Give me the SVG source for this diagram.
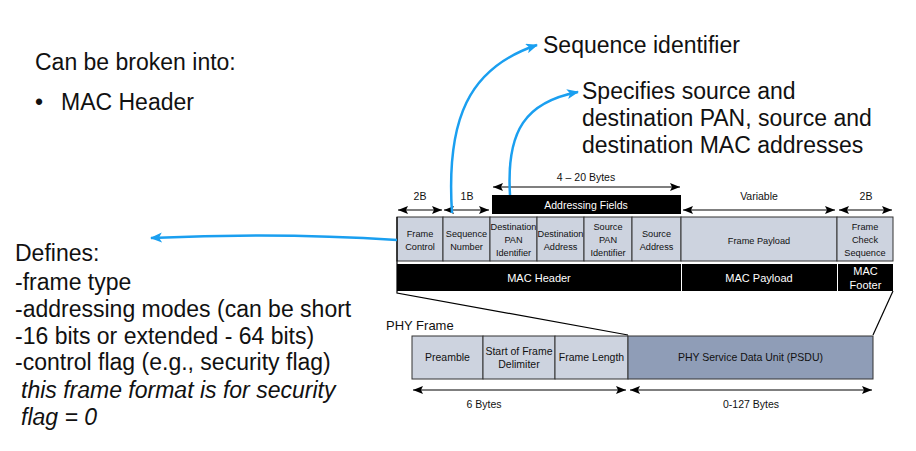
<svg xmlns="http://www.w3.org/2000/svg" width="916" height="451" viewBox="0 0 916 451">
<defs>
<marker id="ah" viewBox="0 0 10 8" refX="10" refY="4" markerWidth="10" markerHeight="8" markerUnits="userSpaceOnUse" orient="auto-start-reverse"><path d="M0,0 L10,4 L0,8 L2,4 Z" fill="#000"/></marker>
<marker id="bh" viewBox="0 0 12 10" refX="11" refY="5" markerWidth="12" markerHeight="10" markerUnits="userSpaceOnUse" orient="auto"><path d="M0,0 L12,5 L0,10 L3,5 Z" fill="#1a9ff0"/></marker>
</defs>
<style>
.big{font-family:"Liberation Sans",Arial,sans-serif;font-size:23px;fill:#111}
.it{font-style:italic}
.sm{font-family:"Liberation Sans",Arial,sans-serif;font-size:9.2px;fill:#111;text-anchor:middle}
.md{font-family:"Liberation Sans",Arial,sans-serif;font-size:10.5px;fill:#111;text-anchor:middle}
.wt{font-family:"Liberation Sans",Arial,sans-serif;font-size:11px;fill:#fff;text-anchor:middle}
.cell{fill:#cdd3df;stroke:#333;stroke-width:1}
.dark{fill:#8f9db7;stroke:#333;stroke-width:1}
.blk{fill:#000}
.dim{stroke:#000;stroke-width:1.2;fill:none;marker-start:url(#ah);marker-end:url(#ah)}
.blue{stroke:#1a9ff0;stroke-width:2.5;fill:none;marker-end:url(#bh)}
.ln{stroke:#000;stroke-width:1.2;fill:none}
</style>

<g id="intro">
<text class="big" x="35" y="70">Can be broken into:</text>
<text class="big" x="35" y="110">•</text>
<text class="big" x="61" y="110">MAC Header</text>
</g>

<g id="defines">
<text class="big" x="15" y="261">Defines:</text>
<text class="big" x="15" y="290">-frame type</text>
<text class="big" x="15" y="317">-addressing modes (can be short</text>
<text class="big" x="15" y="344">-16 bits or extended - 64 bits)</text>
<text class="big" x="15" y="370">-control flag (e.g., security flag)</text>
<text class="big it" x="21" y="398">this frame format is for security</text>
<text class="big it" x="21" y="425">flag = 0</text>
</g>

<g id="seq-label"><text class="big" x="543" y="53">Sequence identifier</text></g>
<g id="addr-label">
<text class="big" x="582" y="99">Specifies source and</text>
<text class="big" x="582" y="126">destination PAN, source and</text>
<text class="big" x="582" y="153">destination MAC addresses</text>
</g>

<g id="dims-top">
<text class="md" x="586" y="181">4 – 20 Bytes</text>
<path class="dim" d="M493,187 H680"/>
<text class="md" x="420" y="200">2B</text>
<path class="dim" d="M398,210 H442"/>
<text class="md" x="467" y="200">1B</text>
<path class="dim" d="M444,210 H489"/>
<text class="md" x="759" y="200">Variable</text>
<path class="dim" d="M683,210 H835"/>
<text class="md" x="866" y="200">2B</text>
<path class="dim" d="M839,210 H892"/>
</g>

<g id="addressing-fields">
<rect class="blk" x="492" y="195" width="189" height="19"/>
<text class="wt" x="586" y="208.5" style="font-size:10.5px">Addressing Fields</text>
</g>

<g id="frame-control"><rect class="cell" x="397" y="217" width="46" height="44"/><text class="sm" x="420" y="237">Frame</text><text class="sm" x="420" y="250">Control</text></g>
<g id="sequence-number"><rect class="cell" x="443" y="217" width="47" height="44"/><text class="sm" x="466.5" y="237">Sequence</text><text class="sm" x="466.5" y="250">Number</text></g>
<g id="dest-pan"><rect class="cell" x="490" y="217" width="47" height="44"/><text class="sm" x="513.5" y="230">Destination</text><text class="sm" x="513.5" y="243">PAN</text><text class="sm" x="513.5" y="256">Identifier</text></g>
<g id="dest-addr"><rect class="cell" x="537" y="217" width="47" height="44"/><text class="sm" x="560.5" y="237">Destination</text><text class="sm" x="560.5" y="250">Address</text></g>
<g id="src-pan"><rect class="cell" x="584" y="217" width="48" height="44"/><text class="sm" x="608" y="230">Source</text><text class="sm" x="608" y="243">PAN</text><text class="sm" x="608" y="256">Identifier</text></g>
<g id="src-addr"><rect class="cell" x="632" y="217" width="49" height="44"/><text class="sm" x="656.5" y="237">Source</text><text class="sm" x="656.5" y="250">Address</text></g>
<g id="frame-payload"><rect class="cell" x="681" y="217" width="156" height="44"/><text class="sm" x="759" y="244">Frame Payload</text></g>
<g id="fcs"><rect class="cell" x="837" y="217" width="56" height="44"/><text class="sm" x="865" y="230">Frame</text><text class="sm" x="865" y="243">Check</text><text class="sm" x="865" y="256">Sequence</text></g>

<g id="mac-header"><rect class="blk" x="397" y="264" width="284" height="27"/><text class="wt" x="539" y="282">MAC Header</text></g>
<g id="mac-payload"><rect class="blk" x="682" y="264" width="155" height="27"/><text class="wt" x="759" y="282">MAC Payload</text></g>
<g id="mac-footer"><rect class="blk" x="838" y="264" width="55" height="27"/><text class="wt" x="865.5" y="275">MAC</text><text class="wt" x="865.5" y="289">Footer</text></g>

<g id="phy-label"><text x="386" y="330" style="font-family:'Liberation Sans',Arial,sans-serif;font-size:13px;fill:#111">PHY Frame</text></g>
<g id="preamble"><rect class="cell" x="412" y="336" width="71" height="43"/><text class="md" x="447.5" y="361">Preamble</text></g>
<g id="sfd"><rect class="cell" x="483" y="336" width="72" height="43"/><text class="md" x="519" y="355">Start of Frame</text><text class="md" x="519" y="368">Delimiter</text></g>
<g id="frame-length"><rect class="cell" x="555" y="336" width="73" height="43"/><text class="md" x="591.5" y="361">Frame Length</text></g>
<g id="psdu"><rect class="dark" x="628" y="336" width="245" height="43"/><text class="md" x="750.5" y="361">PHY Service Data Unit (PSDU)</text></g>

<g id="dims-bottom">
<path class="dim" d="M413,390 H626"/>
<text class="md" x="484" y="408">6 Bytes</text>
<path class="dim" d="M630,390 H872"/>
<text class="md" x="751" y="408">0-127 Bytes</text>
</g>

<g id="connectors">
<path class="ln" d="M397,217 V293 L628,335"/>
<path class="ln" d="M893,291 L873,335"/>
<path class="blue" d="M452,213 C446,120 468,68 537,45"/>
<path class="blue" d="M510,195 C506,130 526,102 578,92"/>
<path class="blue" d="M397,240 Q280,232 151,238"/>
</g>
</svg>
